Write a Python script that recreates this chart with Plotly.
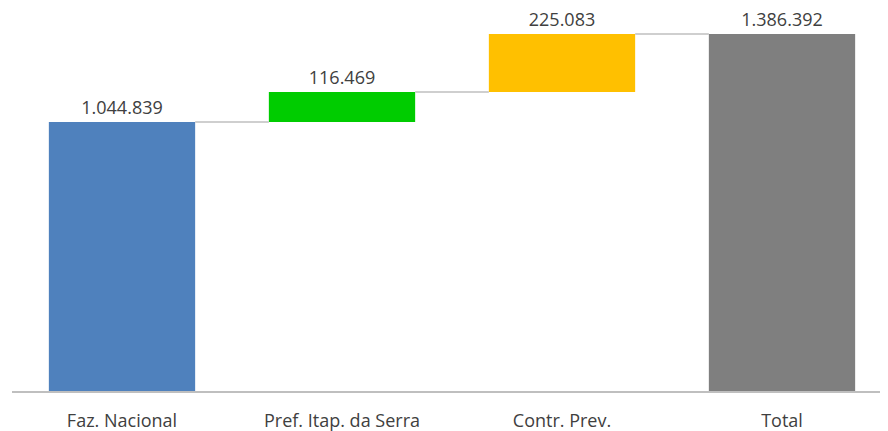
import plotly.graph_objects as go

categories = ["Faz. Nacional", "Pref. Itap. da Serra", "Contr. Prev.", "Total"]
values = [1044839, 116469, 225083, 1386392]
is_total = [False, False, False, True]
colors = ["#4F81BD", "#00CC00", "#FFC000", "#7F7F7F"]

def fmt(v):
    return f"{v:,}".replace(",", ".")

bases = []
tops = []
cum = 0
for v, t in zip(values, is_total):
    if t:
        bases.append(0)
        tops.append(v)
        cum = v
    else:
        bases.append(cum)
        cum += v
        tops.append(cum)

xs = list(range(len(categories)))
w = 0.665
font = "Open Sans, Liberation Sans, sans-serif"

fig = go.Figure()
fig.add_trace(go.Bar(
    x=xs, y=values, base=bases, width=w,
    marker=dict(color=colors, line=dict(width=0)),
    text=[fmt(v) for v in values], textposition="outside",
    textfont=dict(family=font, size=18, color="#404040"),
    cliponaxis=False, showlegend=False, hoverinfo="skip",
))
for i in range(len(xs) - 1):
    fig.add_trace(go.Scatter(
        x=[xs[i] + w / 2, xs[i + 1] - w / 2], y=[tops[i], tops[i]],
        mode="lines", line=dict(color="#BFBFBF", width=1.5),
        showlegend=False, hoverinfo="skip",
    ))

fig.update_layout(
    width=888, height=431,
    margin=dict(l=4, r=4, t=0, b=48),
    plot_bgcolor="white", paper_bgcolor="white",
    xaxis=dict(
        range=[-0.5, 3.5], tickvals=xs, ticktext=categories,
        showline=True, linecolor="#BFBFBF", linewidth=1.5,
        showgrid=False, zeroline=False, ticks="", automargin=False,
        ticklabelstandoff=13,
        tickfont=dict(family=font, size=18, color="#404040"),
    ),
    yaxis=dict(range=[0, 1386392 * 383 / 357], visible=False, showgrid=False, zeroline=False),
)
fig.write_html("out.html")
